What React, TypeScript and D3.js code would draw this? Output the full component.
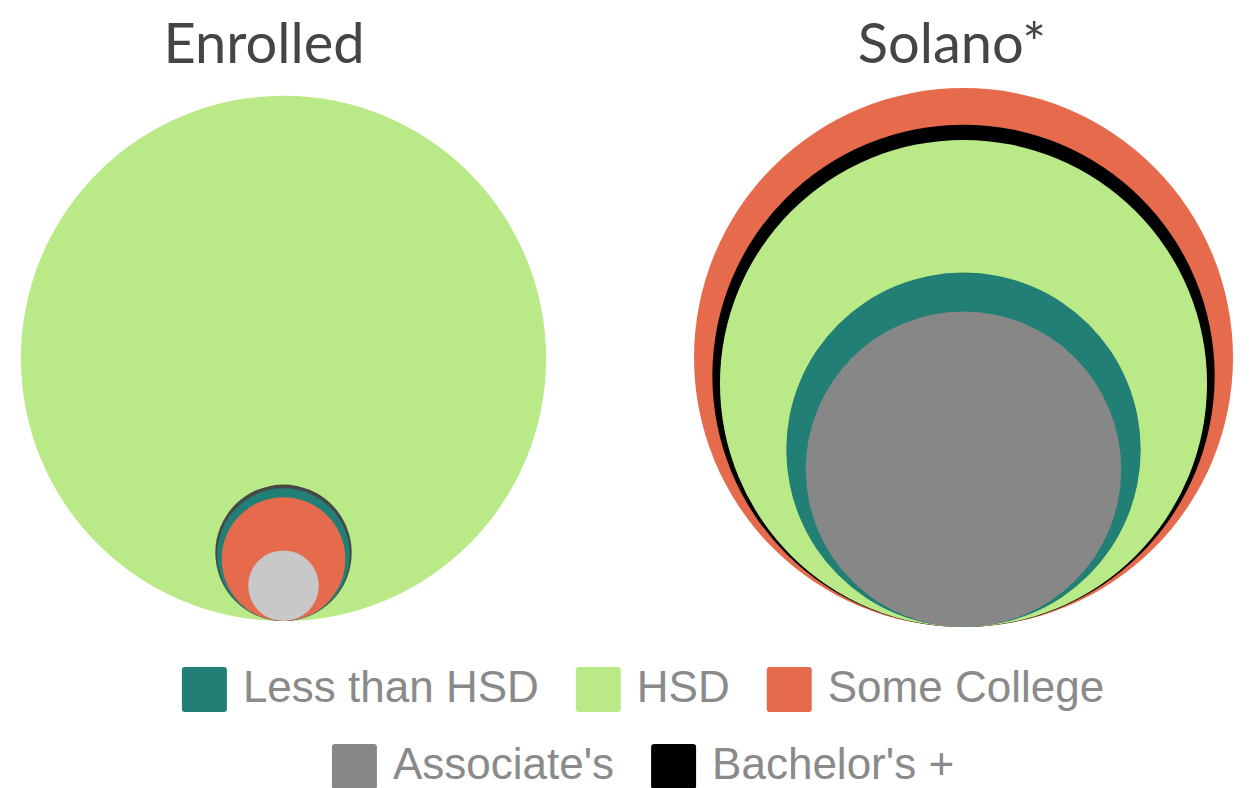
import { useEffect, useRef } from 'react';
import * as d3 from 'd3';

const categories = ['Less than HSD', 'HSD', 'Some College', "Associate's", "Bachelor's +"];
const enrolledValues = [5.3, 83.0, 4.6, 1.5, 5.6];
const solanoValues = [12.5, 23.6, 28.9, 9.9, 25.1];
const chartTitles = ['Enrolled', 'Solano*'];

const colors = ['#227f75', '#bae987', '#e66b4d', '#878787', '#000000'];
// the enrolled panel uses muted shades for the two degree groups
const enrolledColors = ['#227f75', '#bae987', '#e66b4d', '#c8c8c8', '#474747'];

const WIDTH = 1249;
const HEIGHT = 788;

export default function App() {
	const svgRef = useRef<SVGSVGElement>(null);

	useEffect(() => {
		if (!svgRef.current) return;
		const svg = d3.select(svgRef.current);
		svg.selectAll('*').remove();

		const panels = [
			{ title: chartTitles[0], values: enrolledValues, fills: enrolledColors, cx: 283.5, bottom: 621, maxR: 262.6, titleX: 264 },
			{ title: chartTitles[1], values: solanoValues, fills: colors, cx: 963.5, bottom: 627, maxR: 269.5, titleX: 952 },
		];

		panels.forEach((p) => {
			const r = d3
				.scaleSqrt()
				.domain([0, d3.max(p.values) || 1])
				.range([0, p.maxR]);

			const rows = categories
				.map((c, i) => ({ label: c, value: p.values[i], fill: p.fills[i] }))
				.sort((a, b) => b.value - a.value);

			const g = svg.append('g');
			g.selectAll('circle')
				.data(rows)
				.enter()
				.append('circle')
				.attr('cx', p.cx)
				.attr('cy', (d) => p.bottom - r(d.value))
				.attr('r', (d) => r(d.value))
				.attr('fill', (d) => d.fill);

			svg
				.append('text')
				.attr('x', p.titleX)
				.attr('y', 63)
				.attr('text-anchor', 'middle')
				.style('font-family', 'Lato, sans-serif')
				.style('font-size', '56px')
				.style('fill', '#454545')
				.text(p.title);
		});

		// Legend, two centred rows
		const legendRows = [
			[0, 1, 2],
			[3, 4],
		];
		const rowY = [667, 744];
		const box = 45;
		const textGap = 16;
		const itemGap = 37;
		const centerX = 643;

		legendRows.forEach((idxs, ri) => {
			const row = svg.append('g');
			const items = idxs.map((i) => {
				const item = row.append('g');
				item
					.append('rect')
					.attr('width', box)
					.attr('height', box)
					.attr('rx', 3)
					.attr('fill', colors[i]);
				const t = item
					.append('text')
					.attr('x', box + textGap)
					.attr('y', 35)
					.style('font-family', '"Liberation Sans", Arial, sans-serif')
					.style('font-size', '44px')
					.style('fill', '#8a8a8a')
					.text(categories[i]);
				const w = (t.node() as SVGTextElement).getComputedTextLength();
				return { item, w: box + textGap + w };
			});
			const total = d3.sum(items, (d) => d.w) + itemGap * (items.length - 1);
			let x = centerX - total / 2;
			items.forEach((it) => {
				it.item.attr('transform', `translate(${x},${rowY[ri]})`);
				x += it.w + itemGap;
			});
		});
	}, []);

	return (
		<svg
			ref={svgRef}
			width={WIDTH}
			height={HEIGHT}
			style={{ position: 'absolute', left: 0, top: 0, background: '#fff' }}
		></svg>
	);
}
